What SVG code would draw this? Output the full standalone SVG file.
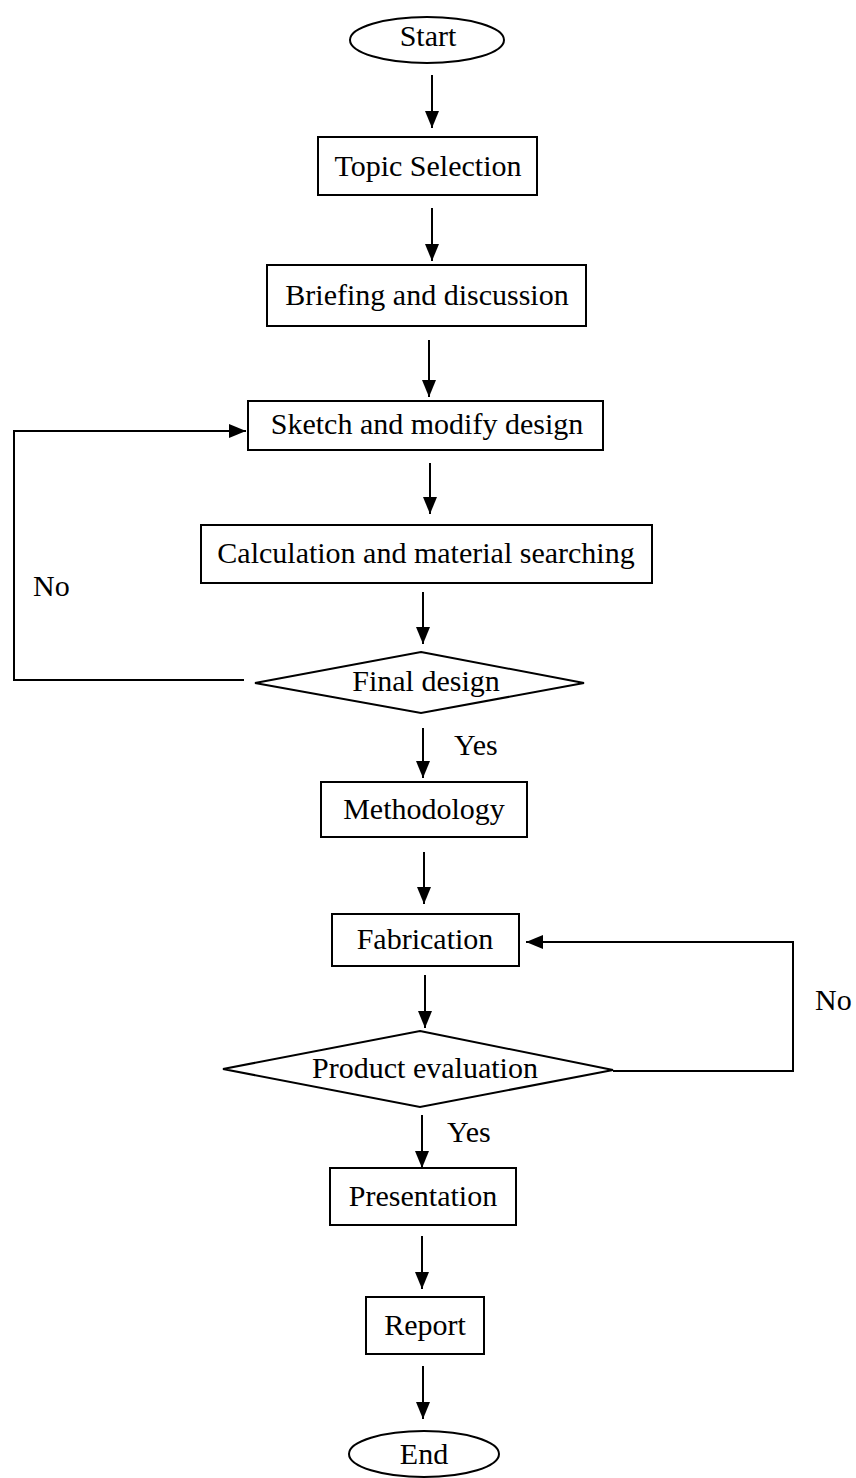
<svg xmlns="http://www.w3.org/2000/svg" width="856" height="1478" viewBox="0 0 856 1478">
<style>
.n{fill:#fff;stroke:#000;stroke-width:2}
.t{font-family:"Liberation Serif","Times New Roman",serif;font-size:30px;fill:#000;text-anchor:middle}
.l{font-family:"Liberation Serif","Times New Roman",serif;font-size:30px;fill:#000}
.c{fill:none;stroke:#000;stroke-width:2}
</style>
<defs>
<marker id="ah" markerUnits="userSpaceOnUse" markerWidth="18" markerHeight="14" refX="17" refY="7" orient="auto">
<path d="M0,0 L17,7 L0,14 z" fill="#000"/>
</marker>
</defs>
<rect width="856" height="1478" fill="#fff"/>
<g id="connectors">
<line class="c" x1="432" y1="75" x2="432" y2="128" marker-end="url(#ah)"/>
<line class="c" x1="432" y1="208" x2="432" y2="261" marker-end="url(#ah)"/>
<line class="c" x1="429" y1="340" x2="429" y2="397" marker-end="url(#ah)"/>
<line class="c" x1="430" y1="463" x2="430" y2="514" marker-end="url(#ah)"/>
<line class="c" x1="423" y1="592" x2="423" y2="644" marker-end="url(#ah)"/>
<polyline class="c" points="244,680 14,680 14,431 246,431" marker-end="url(#ah)"/>
<line class="c" x1="423" y1="728" x2="423" y2="778" marker-end="url(#ah)"/>
<line class="c" x1="424" y1="852" x2="424" y2="904" marker-end="url(#ah)"/>
<line class="c" x1="425" y1="975" x2="425" y2="1028" marker-end="url(#ah)"/>
<polyline class="c" points="613,1071 793,1071 793,942 526,942" marker-end="url(#ah)"/>
<line class="c" x1="422" y1="1115" x2="422" y2="1168" marker-end="url(#ah)"/>
<line class="c" x1="422" y1="1236" x2="422" y2="1289" marker-end="url(#ah)"/>
<line class="c" x1="423" y1="1366" x2="423" y2="1419" marker-end="url(#ah)"/>
<text class="l" x="33" y="596">No</text>
<text class="l" x="454" y="755">Yes</text>
<text class="l" x="815" y="1010">No</text>
<text class="l" x="447" y="1142">Yes</text>
</g>
<g id="start"><ellipse class="n" cx="427" cy="40" rx="77" ry="23"/><text class="t" x="428" y="46">Start</text></g>
<g id="topic"><rect class="n" x="318" y="137" width="219" height="58"/><text class="t" x="428" y="176">Topic Selection</text></g>
<g id="briefing"><rect class="n" x="267" y="265" width="319" height="61"/><text class="t" x="427" y="305">Briefing and discussion</text></g>
<g id="sketch"><rect class="n" x="248" y="401" width="355" height="49"/><text class="t" x="427" y="434">Sketch and modify design</text></g>
<g id="calc"><rect class="n" x="201" y="525" width="451" height="58"/><text class="t" x="426" y="563">Calculation and material searching</text></g>
<g id="final"><polygon class="n" points="421,652 584,683 421,713 255,683"/><text class="t" x="426" y="691">Final design</text></g>
<g id="methodology"><rect class="n" x="321" y="782" width="206" height="55"/><text class="t" x="424" y="819">Methodology</text></g>
<g id="fabrication"><rect class="n" x="332" y="914" width="187" height="52"/><text class="t" x="425" y="949">Fabrication</text></g>
<g id="evaluation"><polygon class="n" points="420,1031 613,1070 420,1107 223,1069"/><text class="t" x="425" y="1078">Product evaluation</text></g>
<g id="presentation"><rect class="n" x="330" y="1168" width="186" height="57"/><text class="t" x="423" y="1206">Presentation</text></g>
<g id="report"><rect class="n" x="366" y="1297" width="118" height="57"/><text class="t" x="425" y="1335">Report</text></g>
<g id="end"><ellipse class="n" cx="424" cy="1454" rx="75" ry="23"/><text class="t" x="424" y="1464">End</text></g>
</svg>
